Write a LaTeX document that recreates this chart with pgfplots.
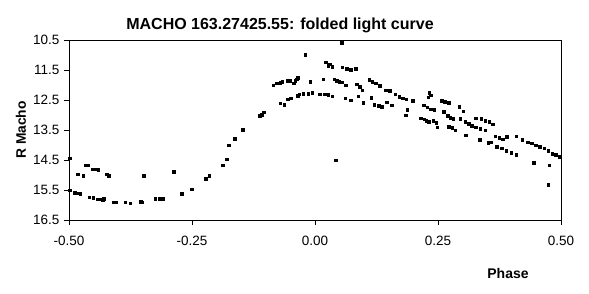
\documentclass[border=0pt]{standalone}
\usepackage{pgfplots}
\pgfplotsset{compat=1.18}
\usepackage{fontspec}
\setmainfont{Liberation Sans}
\pgfplotstableread{
x y
-0.498 14.44
-0.499 15.50
-0.488 15.58
-0.482 15.61
-0.477 15.62
-0.482 14.97
-0.471 15.02
-0.467 14.67
-0.462 14.67
-0.459 15.74
-0.451 15.75
-0.452 14.80
-0.446 14.80
-0.441 14.82
-0.443 15.80
-0.437 15.81
-0.432 15.83
-0.429 15.79
-0.423 14.97
-0.419 15.03
-0.410 15.91
-0.404 15.91
-0.386 15.91
-0.376 15.94
-0.354 15.88
-0.352 15.91
-0.348 15.03
-0.325 15.78
-0.317 15.78
-0.309 15.78
-0.287 14.88
-0.271 15.63
-0.251 15.47
-0.222 15.13
-0.215 15.02
-0.188 14.67
-0.179 14.47
-0.175 14.00
-0.163 13.78
-0.147 13.48
-0.113 13.03
-0.108 12.98
-0.104 12.91
-0.085 12.00
-0.078 11.94
-0.071 11.92
-0.067 11.89
-0.071 12.61
-0.063 12.66
-0.056 11.86
-0.051 11.86
-0.055 12.47
-0.049 12.44
-0.043 11.94
-0.040 11.86
-0.037 11.80
-0.035 11.76
-0.035 12.36
-0.032 12.30
-0.020 10.98
-0.010 11.89
-0.024 12.28
-0.014 12.28
-0.006 12.26
0.009 12.31
0.017 11.81
0.010 12.30
0.020 12.31
0.027 12.33
0.035 12.37
0.022 11.24
0.027 11.36
0.030 11.31
0.035 11.39
0.039 11.81
0.044 11.86
0.049 11.89
0.055 11.91
0.042 14.50
0.054 10.59
0.055 11.41
0.064 11.45
0.072 11.48
0.083 11.45
0.062 12.00
0.061 12.44
0.073 12.50
0.085 11.97
0.091 12.06
0.096 12.17
0.088 12.37
0.098 12.59
0.110 11.83
0.116 11.89
0.123 11.94
0.131 12.02
0.114 12.43
0.120 12.65
0.130 12.68
0.136 12.73
0.144 12.17
0.152 12.19
0.163 12.30
0.146 12.57
0.156 12.67
0.171 12.39
0.178 12.44
0.185 12.47
0.187 12.83
0.184 13.00
0.199 12.53
0.232 12.26
0.235 12.34
0.230 12.41
0.221 12.67
0.228 12.74
0.235 12.80
0.242 12.83
0.215 13.10
0.222 13.14
0.226 13.18
0.231 13.22
0.240 13.19
0.246 13.26
0.248 13.41
0.257 12.53
0.264 12.56
0.272 12.59
0.262 12.89
0.270 13.03
0.275 13.08
0.281 13.13
0.272 13.39
0.279 13.43
0.285 13.50
0.293 12.72
0.301 12.87
0.295 13.13
0.305 13.22
0.312 13.28
0.319 13.35
0.327 13.40
0.336 13.45
0.346 13.50
0.306 13.67
0.327 13.10
0.338 13.13
0.346 13.18
0.354 13.22
0.361 13.30
0.335 13.83
0.352 13.93
0.357 13.90
0.366 13.70
0.374 13.76
0.381 13.80
0.390 13.73
0.369 14.06
0.379 14.11
0.389 14.19
0.399 14.26
0.409 14.33
0.409 13.70
0.421 13.83
0.432 13.91
0.440 13.94
0.449 14.00
0.457 14.06
0.466 14.11
0.474 14.19
0.482 14.28
0.489 14.33
0.496 14.39
0.444 14.58
0.476 14.67
0.474 15.33
}\lightcurve
\begin{document}
\begin{tikzpicture}
\useasboundingbox (-69pt,-73pt) rectangle (520pt,220pt);
\begin{axis}[
  at={(0pt,0pt)}, anchor=south west,
  scale only axis, width=492pt, height=180pt,
  xmin=-0.5, xmax=0.5, ymin=10.5, ymax=16.5,
  y dir=reverse,
  xtick={-0.5,-0.25,0,0.25,0.5},
  ytick={10.5,11.5,12.5,13.5,14.5,15.5,16.5},
  tick align=outside, tick pos=left,
  major tick length=5pt,
  axis line style={black, line width=0.8pt},
  every tick/.style={black, line width=0.8pt},
  /pgf/number format/assume math mode=true,
  xticklabel style={/pgf/number format/fixed, /pgf/number format/fixed zerofill, /pgf/number format/precision=2, font=\fontsize{13.5}{15}\selectfont, yshift=-7.5pt},
  yticklabel style={/pgf/number format/fixed, /pgf/number format/fixed zerofill, /pgf/number format/precision=1, font=\fontsize{13.5}{15}\selectfont, xshift=-1pt},
  clip=false,
]
\addplot[only marks, mark=square*, mark size=1.3pt, black] table[x=x,y=y] {\lightcurve};
\end{axis}
\node[font=\bfseries\fontsize{16}{18}\selectfont] at (211pt,195pt) {MACHO 163.27425.55: folded light curve};
\node[font=\bfseries\fontsize{13.8}{15}\selectfont, rotate=90] at (-48pt,90pt) {R Macho};
\node[font=\bfseries\fontsize{14}{16}\selectfont] at (439pt,-53.5pt) {Phase};
\end{tikzpicture}
\end{document}
